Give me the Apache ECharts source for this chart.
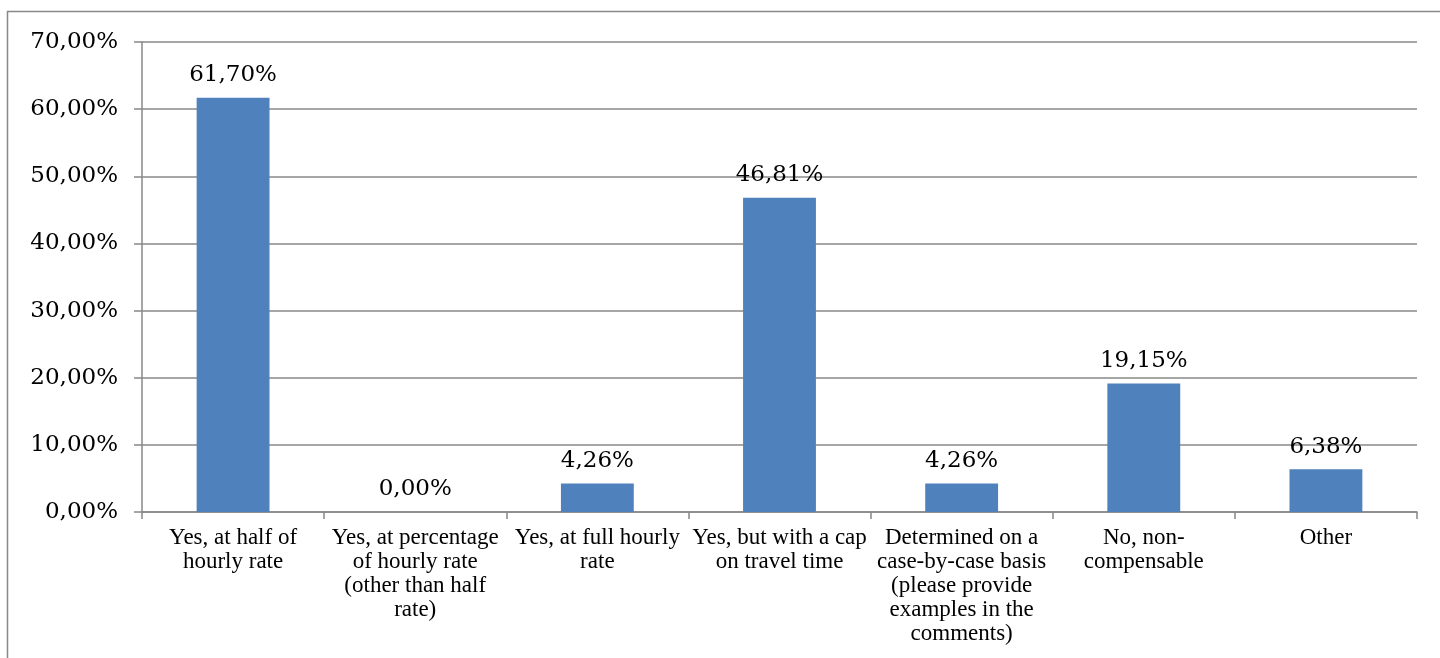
<!DOCTYPE html>
<html>
<head>
<meta charset="utf-8">
<script src="https://cdn.jsdelivr.net/npm/echarts@6/dist/echarts.min.js"></script>
<style>
  html, body { margin: 0; padding: 0; background: #fff; }
  #chart { width: 1440px; height: 658px; }
</style>
</head>
<body>
<div id="chart"></div>
<script>
// Travel-time compensation answers (share of respondents, %)
const categories = [
  'Yes, at half of\nhourly rate',
  'Yes, at percentage\nof hourly rate\n(other than half\nrate)',
  'Yes, at full hourly\nrate',
  'Yes, but with a cap\non travel time',
  'Determined on a\ncase-by-case basis\n(please provide\nexamples in the\ncomments)',
  'No, non-\ncompensable',
  'Other'
];
const shares = [61.70, 0.00, 4.26, 46.81, 4.26, 19.15, 6.38];
const yTicks = { min: 0, max: 70, interval: 10 };

const fmtPct = v => v.toFixed(2).replace('.', ',') + '%';
const numFont = 'DejaVu Serif';
const textFont = 'Liberation Serif';
const gray = '#888888';

const chart = echarts.init(document.getElementById('chart'), null, { renderer: 'canvas' });
chart.setOption({
  animation: false,
  backgroundColor: '#ffffff',
  graphic: [{
    type: 'rect',
    shape: { x: 7.5, y: 11.5, width: 1460, height: 700 },
    style: { fill: null, stroke: gray, lineWidth: 1.5 },
    silent: true,
    z: -1
  }],
  grid: { left: 142, right: 23, top: 42, bottom: 146, containLabel: false },
  xAxis: {
    type: 'category',
    data: categories,
    axisLine: { lineStyle: { color: gray, width: 1.5 } },
    axisTick: { show: true, length: 7, alignWithLabel: false, lineStyle: { color: gray, width: 1.5 } },
    axisLabel: {
      interval: 0,
      margin: 14,
      color: '#000',
      fontFamily: textFont,
      fontSize: 23,
      lineHeight: 24,
      verticalAlign: 'top'
    }
  },
  yAxis: {
    type: 'value',
    min: yTicks.min,
    max: yTicks.max,
    interval: yTicks.interval,
    axisLine: { show: true, lineStyle: { color: gray, width: 1.5 } },
    axisTick: { show: true, length: 8, lineStyle: { color: gray, width: 1.5 } },
    splitLine: { show: true, lineStyle: { color: gray, width: 1.5 } },
    axisLabel: {
      margin: 24,
      color: '#000',
      fontFamily: numFont,
      fontSize: 23,
      formatter: v => fmtPct(v)
    }
  },
  series: [{
    type: 'bar',
    data: shares,
    barWidth: '40%',
    itemStyle: { color: '#4F81BD' },
    label: {
      show: true,
      position: 'top',
      distance: 11,
      color: '#000',
      fontFamily: numFont,
      fontSize: 23,
      formatter: p => fmtPct(p.value)
    }
  }]
});
</script>
</body>
</html>
